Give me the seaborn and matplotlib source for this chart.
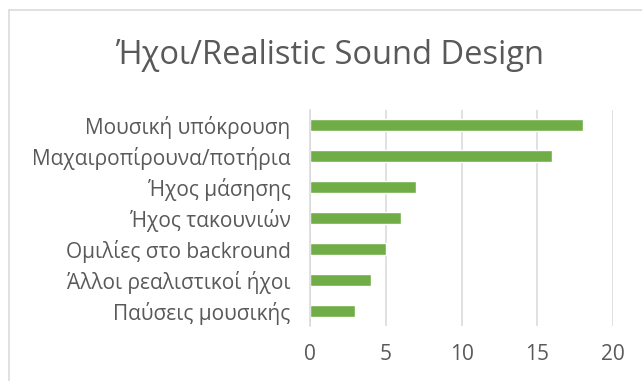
import matplotlib
matplotlib.use("Agg")
import matplotlib.pyplot as plt
from matplotlib.lines import Line2D
import seaborn as sns
import pandas as pd

categories = [
    "Μουσική υπόκρουση",
    "Μαχαιροπίρουνα/ποτήρια",
    "Ήχος μάσησης",
    "Ήχος τακουνιών",
    "Ομιλίες στο backround",
    "Άλλοι ρεαλιστικοί ήχοι",
    "Παύσεις μουσικής",
]
counts = [18, 16, 7, 6, 5, 4, 3]
x_ticks = [0, 5, 10, 15, 20]
title = "Ήχοι/Realistic Sound Design"

sns.set_theme(style="white")
plt.rcParams["font.family"] = ["Open Sans", "DejaVu Sans"]

df = pd.DataFrame({"category": categories, "count": counts})

fig = plt.figure(figsize=(6.42, 3.81), dpi=100)
ax = fig.add_axes([310 / 642, 1 - 326 / 381, (613 - 310) / 642, (326 - 110) / 381])

sns.barplot(data=df, x="count", y="category", orient="h", color="#70AD47",
            saturation=1, width=0.39, ax=ax)

ax.set_xlim(0, 20)
ax.set_ylim(6.5, -0.5)
ax.set_xticks(x_ticks)
ax.set_xticklabels([str(t) for t in x_ticks])
ax.xaxis.grid(True, color="#D9D9D9", linewidth=1.1)
ax.set_axisbelow(True)
for s in ["top", "right", "bottom"]:
    ax.spines[s].set_visible(False)
ax.spines["left"].set_color("#D9D9D9")
ax.spines["left"].set_linewidth(1.1)
ax.set_xlabel("")
ax.set_ylabel("")
ax.tick_params(axis="both", length=0, labelcolor="#595959", labelsize=15)
ax.tick_params(axis="x", pad=13)
ax.tick_params(axis="y", pad=14)

fig.text(330 / 642, 1 - 55 / 381, title, ha="center", va="center",
         fontsize=23.5, color="#595959")

# chart frame
fig.add_artist(Line2D([9 / 642, 9 / 642], [0, 1 - 10 / 381], transform=fig.transFigure,
                      color="#D9D9D9", linewidth=1.1))
fig.add_artist(Line2D([9 / 642, 1], [1 - 10 / 381, 1 - 10 / 381], transform=fig.transFigure,
                      color="#D9D9D9", linewidth=1.1))

fig.savefig("out.png", dpi=100)
